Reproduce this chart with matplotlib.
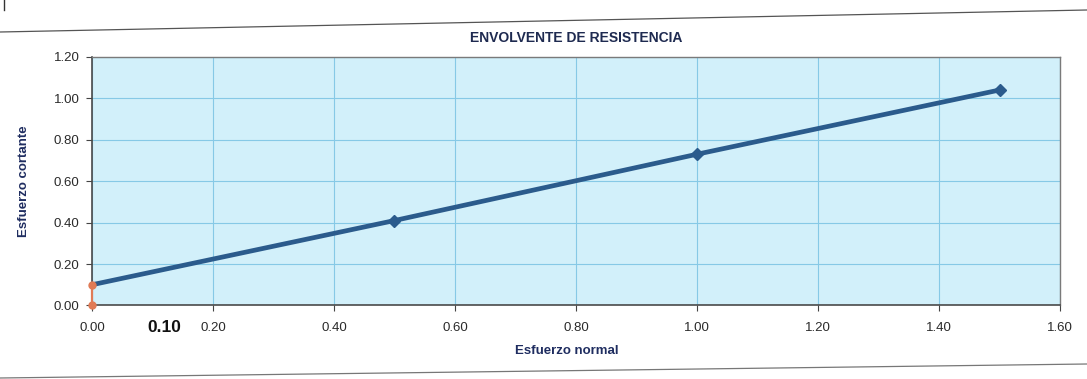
import matplotlib
matplotlib.use("Agg")
import matplotlib.pyplot as plt
from matplotlib.lines import Line2D
import numpy as np

plt.rcParams['font.family'] = ['Liberation Sans', 'DejaVu Sans']

# Failure envelope: normal stress vs shear stress (kg/cm2)
normal_stress = [0.50, 1.00, 1.50]
shear_stress = [0.41, 0.73, 1.04]
cohesion = 0.10

# Envelope line runs from the cohesion intercept through the test points
env_x = [0.0] + normal_stress
env_y = [cohesion] + shear_stress

# Cohesion marker on the vertical axis
coh_x = [0.0, 0.0]
coh_y = [0.0, cohesion]

x_ticks = [0.0, 0.2, 0.4, 0.6, 0.8, 1.0, 1.2, 1.4, 1.6]
y_ticks = [0.0, 0.2, 0.4, 0.6, 0.8, 1.0, 1.2]
x_tick_labels = ["0.00", "0.20", "0.40", "0.60", "0.80", "1.00", "1.20", "1.40", "1.60"]
y_tick_labels = ["0.00", "0.20", "0.40", "0.60", "0.80", "1.00", "1.20"]

title = "ENVOLVENTE DE RESISTENCIA"
x_label = "Esfuerzo normal"
y_label = "Esfuerzo cortante"
cohesion_note = "0.10"

fig = plt.figure(figsize=(10.87, 3.79), dpi=100)
ax = fig.add_axes([0.0846, 0.194, 0.8906, 0.656])
ax.set_facecolor("#d2f0fa")

ax.set_xlim(0, 1.6)
ax.set_ylim(0, 1.2)
ax.set_xticks(x_ticks)
ax.set_xticklabels(x_tick_labels)
ax.set_yticks(y_ticks)
ax.set_yticklabels(y_tick_labels)
ax.tick_params(axis="both", labelsize=9.5, colors="#444444", labelcolor="#2a2a2a",
               length=4, width=0.8, direction="out")
ax.tick_params(axis="x", pad=8)
ax.tick_params(axis="y", pad=5)

ax.grid(True, color="#86c9e6", linewidth=0.8)
ax.set_axisbelow(True)

for side in ["left", "bottom"]:
    ax.spines[side].set_color("#4a4a4a")
    ax.spines[side].set_linewidth(1.2)
for side in ["top", "right"]:
    ax.spines[side].set_color("#7a7a7a")
    ax.spines[side].set_linewidth(1.0)

ax.plot(env_x, env_y, color="#2b5b8c", linewidth=3.4, solid_capstyle="round", zorder=3)
ax.plot(normal_stress, shear_stress, linestyle="none", marker="D", markersize=6.5,
        color="#2b5b8c", zorder=4)
ax.plot(coh_x, coh_y, color="#e07b56", linewidth=1.6, marker="o", markersize=5,
        clip_on=False, zorder=5)

ax.set_title(title, fontsize=10, fontweight="bold", color="#1e2a50", pad=11)
ax.set_xlabel(x_label, fontsize=9.5, fontweight="bold", color="#1f2d60")
ax.set_ylabel(y_label, fontsize=9.5, fontweight="bold", color="#1f2d60", labelpad=17)
ax.xaxis.set_label_coords(0.49, -0.16)

# Handwritten cohesion value under the x axis
ax.text(0.12, -0.058, cohesion_note, transform=ax.get_xaxis_transform(),
        ha="center", va="top", fontsize=12.5, fontweight="bold", color="#111111")

# Page rules above and below the chart
fig.add_artist(Line2D([0.0, 1.0], [1 - 32 / 379, 1 - 10 / 379], color="#555555",
                      linewidth=0.9, transform=fig.transFigure))
fig.add_artist(Line2D([0.0, 1.0], [1 - 378 / 379, 1 - 364 / 379], color="#777777",
                      linewidth=0.9, transform=fig.transFigure))
fig.add_artist(Line2D([0.004, 0.004], [1.0, 1 - 10 / 379], color="#333333",
                      linewidth=1.0, transform=fig.transFigure))

fig.savefig("out.png", dpi=100)
